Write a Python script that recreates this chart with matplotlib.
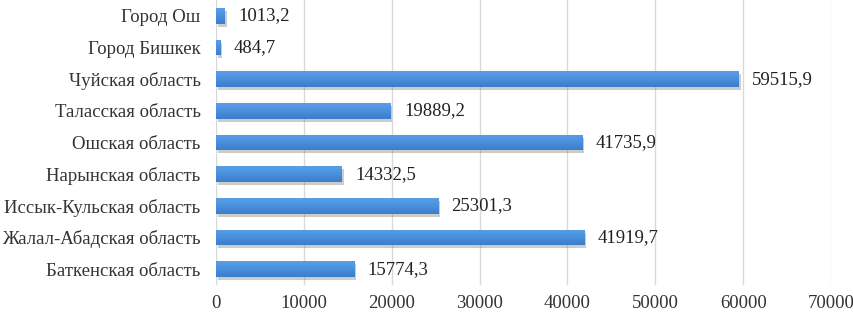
import matplotlib
matplotlib.use("Agg")
import matplotlib.pyplot as plt
import matplotlib.patheffects as pe
import numpy as np
from matplotlib.colors import LinearSegmentedColormap

categories = ["Баткенская область", "Жалал-Абадская область", "Иссык-Кульская область",
              "Нарынская область", "Ошская область", "Таласская область",
              "Чуйская область", "Город Бишкек", "Город Ош"]
values = [15774.3, 41919.7, 25301.3, 14332.5, 41735.9, 19889.2, 59515.9, 484.7, 1013.2]
xticks = [0, 10000, 20000, 30000, 40000, 50000, 60000, 70000]

plt.rcParams['font.family'] = ['Liberation Serif', 'DejaVu Serif']
FS = 13.5

fig = plt.figure(figsize=(8.54, 3.14), dpi=100)
ax = fig.add_axes([216/854, 1-285/314, (831-216)/854, 285/314])

y = list(range(len(categories)))
bars = ax.barh(y, values, height=0.5, color='#4A8FDB', zorder=3,
               path_effects=[pe.SimplePatchShadow(offset=(1.2, -2.2), shadow_rgbFace='#808080', alpha=0.4), pe.Normal()])

cmap = LinearSegmentedColormap.from_list('g', ['#3C7DC8', '#4A90DC', '#5A9EE6'])
grad = np.linspace(0, 1, 64).reshape(-1, 1)
for b in bars:
    x0, y0, w, h = b.get_x(), b.get_y(), b.get_width(), b.get_height()
    im = ax.imshow(grad, cmap=cmap, extent=(x0, x0 + w, y0, y0 + h), origin='lower',
                   aspect='auto', zorder=4, interpolation='bilinear')
    im.set_clip_path(b)

for yi, v in zip(y, values):
    txt = f"{v:.1f}".replace('.', ',')
    ax.annotate(txt, (v, yi), xytext=(9.5, 0), textcoords='offset points',
                va='center', ha='left', fontsize=FS, color='#222222')

ax.set_xlim(0, 70000)
ax.set_ylim(-0.5, len(categories) - 0.5)
ax.set_xticks(xticks)
ax.set_xticklabels([str(t) for t in xticks], fontsize=FS, color='#333333')
ax.set_yticks(y)
ax.set_yticklabels(categories, fontsize=FS, color='#333333')
ax.tick_params(axis='both', length=0)
ax.tick_params(axis='x', pad=7.5)
ax.tick_params(axis='y', pad=11)
ax.grid(axis='x', color='#d9d9d9', linewidth=1, zorder=0)
for s in ax.spines.values():
    s.set_visible(False)

fig.savefig("out.png", dpi=100)
